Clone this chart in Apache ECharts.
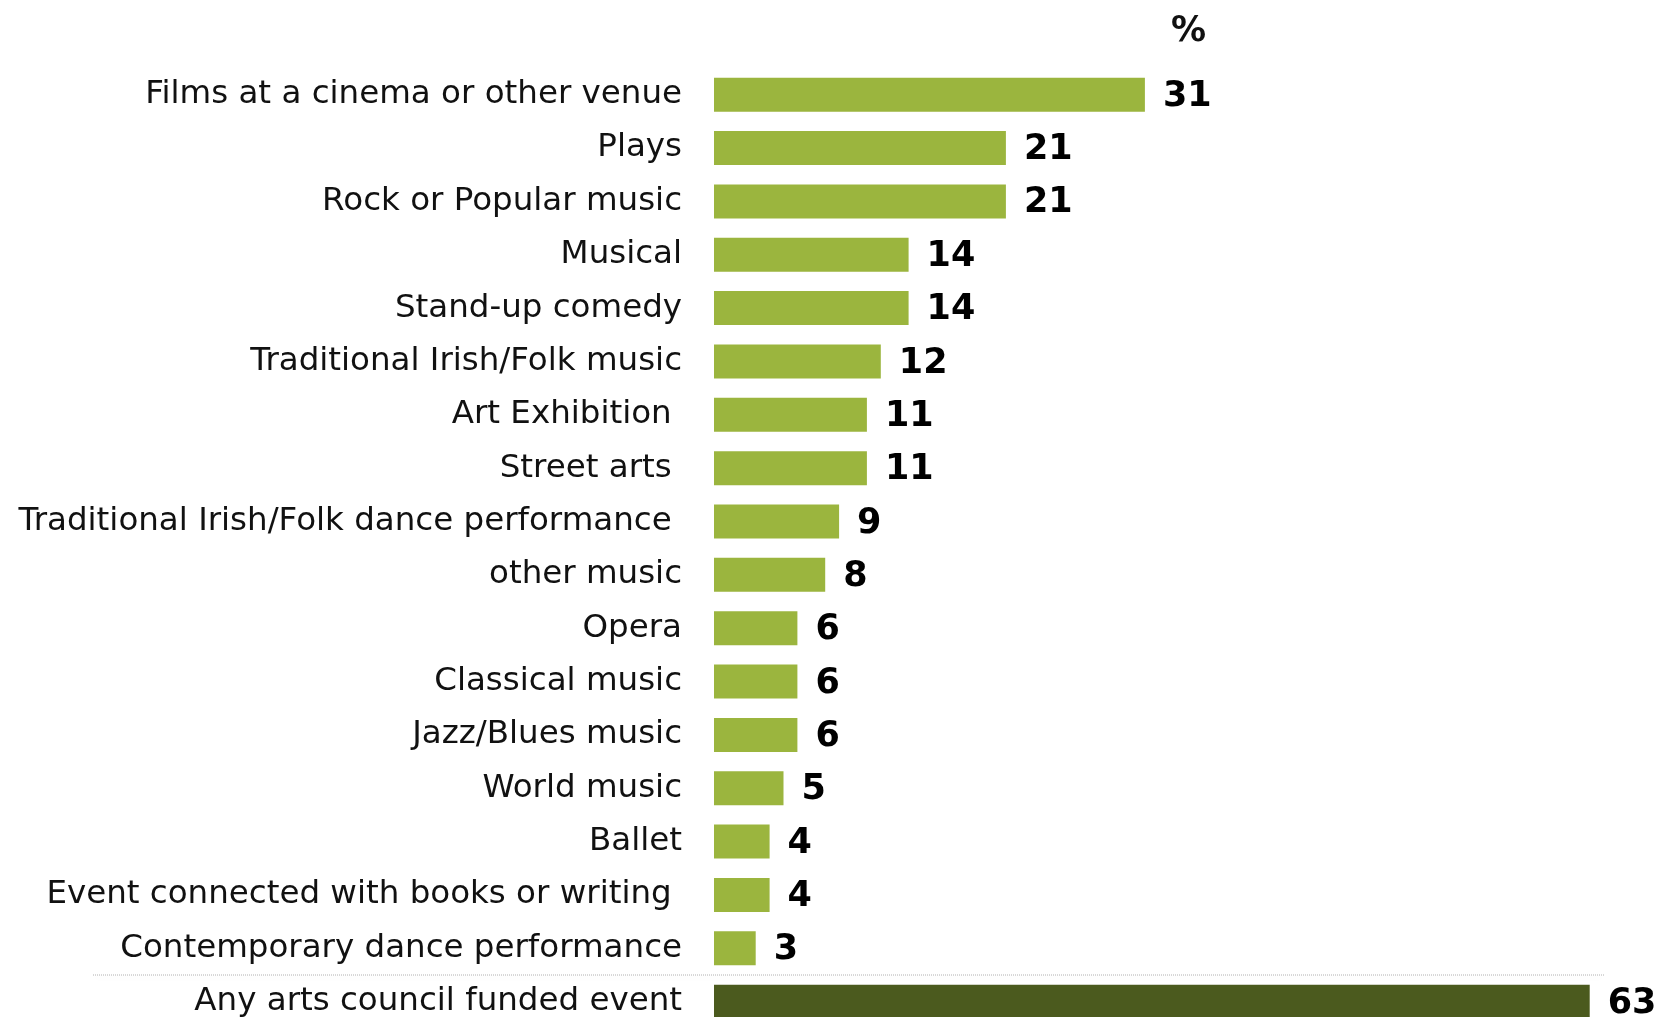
<!DOCTYPE html>
<html>
<head>
<meta charset="utf-8">
<script src="https://cdn.jsdelivr.net/npm/echarts@6/dist/echarts.min.js"></script>
<style>
  html, body { margin: 0; padding: 0; background: #ffffff; }
  #chart { width: 1664px; height: 1017px; }
</style>
</head>
<body>
<div id="chart"></div>
<script>
// Event types attended (percent of respondents)
const categories = [
  'Films at a cinema or other venue',
  'Plays',
  'Rock or Popular music',
  'Musical',
  'Stand-up comedy',
  'Traditional Irish/Folk music',
  'Art Exhibition ',
  'Street arts ',
  'Traditional Irish/Folk dance performance ',
  'other music',
  'Opera',
  'Classical music',
  'Jazz/Blues music',
  'World music',
  'Ballet',
  'Event connected with books or writing ',
  'Contemporary dance performance',
  'Any arts council funded event'
];
const values = [31, 21, 21, 14, 14, 12, 11, 11, 9, 8, 6, 6, 6, 5, 4, 4, 3, 63];
const unitLabel = '%';

const GREEN = '#9bb53e';
const DARK = '#4b5a1e';
const totalIndex = categories.length - 1;

const pxPerUnit = 13.9;
const axisMax = 65;
const rowStep = 53.35;
const gridTop = 68;

const chart = echarts.init(document.getElementById('chart'), null, { renderer: 'canvas' });

chart.setOption({
  animation: false,
  backgroundColor: '#ffffff',
  title: {
    text: unitLabel,
    left: 1166,
    top: 9,
    textStyle: { fontFamily: 'DejaVu Sans', fontWeight: 'bold', fontSize: 35, color: '#111' }
  },
  grid: {
    left: 714,
    top: gridTop,
    width: pxPerUnit * axisMax,
    height: rowStep * categories.length,
    containLabel: false,
    outerBoundsMode: 'none'
  },
  xAxis: {
    type: 'value',
    min: 0,
    max: axisMax,
    show: false
  },
  yAxis: {
    type: 'category',
    data: categories,
    inverse: true,
    axisLine: { show: false },
    axisTick: { show: false },
    splitLine: { show: false },
    axisLabel: {
      margin: 32,
      padding: [4, 0, 0, 0],
      fontFamily: 'DejaVu Sans',
      fontSize: 32.5,
      color: '#111'
    }
  },
  series: [{
    type: 'bar',
    barWidth: 34,
    data: values.map((v, i) => ({
      value: v,
      itemStyle: { color: i === totalIndex ? DARK : GREEN }
    })),
    label: {
      show: true,
      position: 'right',
      distance: 18,
      offset: [0, 2],
      fontFamily: 'DejaVu Sans',
      fontWeight: 'bold',
      fontSize: 35,
      color: '#000'
    }
  }],
  graphic: [{
    type: 'line',
    shape: { x1: 93, y1: 975, x2: 1605, y2: 975 },
    style: {
      stroke: '#b0b0b0',
      lineWidth: 1,
      lineDash: [1, 1],
      shadowColor: 'rgba(0,0,0,0.08)',
      shadowBlur: 6,
      shadowOffsetY: 3
    },
    z: 10
  }]
});
</script>
</body>
</html>
